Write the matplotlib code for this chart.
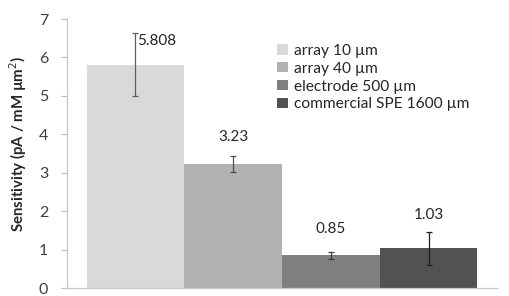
#!/usr/bin/env python3

import matplotlib
matplotlib.use("Agg")
import matplotlib.pyplot as plt
from matplotlib.patches import Patch

# ----------------------------
# Data
# ----------------------------
labels = ["array 10 \u00b5m", "array 40 \u00b5m", "electrode 500 \u00b5m", "commercial SPE 1600 \u00b5m"]
values = [5.808, 3.23, 0.85, 1.03]
errors = [0.82, 0.20, 0.10, 0.44]
value_text = ["5.808", "3.23", "0.85", "1.03"]

colors = ["#d9d9d9", "#b2b2b2", "#7f7f7f", "#525252"]
err_colors = ["#606060", "#505050", "#404040", "#202020"]
label_offsets = [(15, 17), (0, 19), (0, 19), (0, 24)]  # points, from bar top

plt.rcParams["font.family"] = ["Lato", "DejaVu Sans"]

fig = plt.figure(figsize=(5.09, 2.96), dpi=100)
ax = fig.add_axes([0.1316, 0.027, 0.8448, 0.9088])

x = range(len(values))
ax.bar(x, values, width=1.0, color=colors, zorder=2)
for i in x:
    ax.errorbar(i, values[i], yerr=errors[i], fmt="none", ecolor=err_colors[i],
                elinewidth=0.9, capsize=2, capthick=0.9, zorder=3)
    ax.annotate(value_text[i], (i, values[i]), xytext=label_offsets[i],
                textcoords="offset points", ha="center", va="center",
                fontsize=11, color="#262626")

ax.set_xlim(-0.7, 3.7)
ax.set_ylim(0, 7)
ax.set_xticks([])
ax.set_yticks(range(8))
ax.tick_params(axis="y", length=4, width=0.8, color="#bfbfbf", pad=9.5,
               labelsize=11.5, labelcolor="#404040")
for s in ["top", "right"]:
    ax.spines[s].set_visible(False)
for s in ["left", "bottom"]:
    ax.spines[s].set_color("#c8c8c8")
    ax.spines[s].set_linewidth(0.9)

fig.text(0.036, 0.515, "Sensitivity (pA / mM \u00b5m$^2$)", rotation=90,
         ha="center", va="center", fontsize=10.8, fontweight="bold", color="#262626")

handles = [Patch(facecolor=c, edgecolor="none") for c in colors]
fig.legend(handles, labels, loc="upper left", bbox_to_anchor=(0.545, 0.852),
           frameon=False, fontsize=11.2, handlelength=0.65, handleheight=0.65,
           handletextpad=0.4, labelspacing=0.25, borderpad=0, borderaxespad=0,
           labelcolor="#262626")

fig.savefig("out.png", dpi=100)
